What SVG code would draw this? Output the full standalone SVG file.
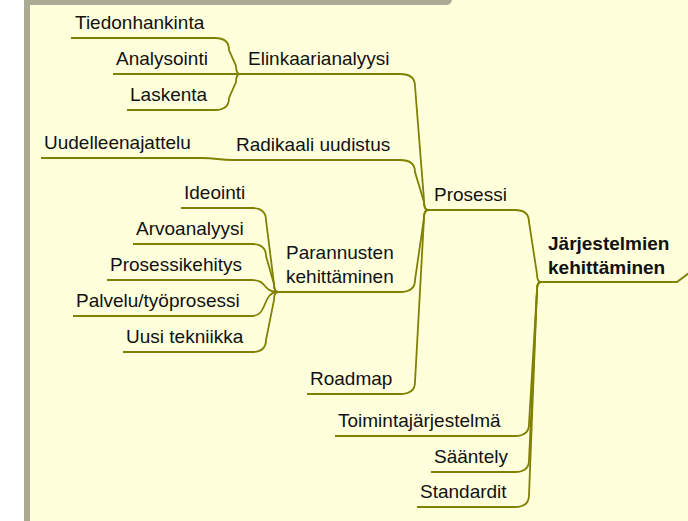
<svg xmlns="http://www.w3.org/2000/svg" width="688" height="521" viewBox="0 0 688 521">
<style>
text{font-family:"Liberation Sans",Arial,sans-serif;font-size:19px;fill:#111}
.b{font-weight:bold}
.u{stroke:#818100;stroke-width:2;fill:none}
.c{stroke:#818100;stroke-width:1.8;fill:none}
</style>
<rect x="0" y="0" width="688" height="521" fill="#ffffff"/>
<rect x="24" y="0" width="664" height="521" fill="#ffffdc"/>
<path d="M24,0 H452 Q451,5 446,5 H30 V521 H24 Z" fill="#abaa94"/>
<g id="connectors">
<path class="c" d="M215,38 Q229,38 229,50 L236,66 Q236,74 240,74"/>
<path class="c" d="M215,110 Q229,110 229,98 L236,82 Q236,74 240,74"/>
<path class="c" d="M400,74 Q415,74 415,86 L424,200 Q424,210 428,210"/>
<path class="c" d="M202,158 C215,158 220,160 233,160"/>
<path class="c" d="M400,160 Q415,160 415,172 L424,202 Q424,210 428,210"/>
<path class="c" d="M252,208 Q266,208 266,220 L274,284 Q274,292 278,292"/>
<path class="c" d="M252,244 Q266,244 266,256 L274,284 Q274,292 278,292"/>
<path class="c" d="M252,280 C268,280 262,292 278,292"/>
<path class="c" d="M252,316 C268,316 262,292 278,292"/>
<path class="c" d="M252,352 Q266,352 266,340 L274,300 Q274,292 278,292"/>
<path class="c" d="M400,292 Q415,292 415,280 L424,218 Q424,210 428,210"/>
<path class="c" d="M400,394 Q415,394 415,382 L424,218 Q424,210 428,210"/>
<path class="c" d="M515,210 Q529,210 529,222 L537,274 Q537,282 541,282"/>
<path class="c" d="M515,436 Q529,436 529,424 L537,290 Q537,282 541,282"/>
<path class="c" d="M515,472 Q529,472 529,460 L537,290 Q537,282 541,282"/>
<path class="c" d="M515,507 Q529,507 529,495 L537,290 Q537,282 541,282"/>
</g>
<g id="n-tiedonhankinta"><line class="u" x1="71" y1="38" x2="215" y2="38"/><text x="75" y="29">Tiedonhankinta</text></g>
<g id="n-analysointi"><line class="u" x1="113" y1="74" x2="240" y2="74"/><text x="116" y="65">Analysointi</text></g>
<g id="n-laskenta"><line class="u" x1="127" y1="110" x2="215" y2="110"/><text x="130" y="101">Laskenta</text></g>
<g id="n-elinkaarianalyysi"><line class="u" x1="240" y1="74" x2="400" y2="74"/><text x="248" y="65">Elinkaarianalyysi</text></g>
<g id="n-uudelleenajattelu"><line class="u" x1="41" y1="158" x2="202" y2="158"/><text x="44" y="149">Uudelleenajattelu</text></g>
<g id="n-radikaali"><line class="u" x1="233" y1="160" x2="400" y2="160"/><text x="236" y="151">Radikaali uudistus</text></g>
<g id="n-ideointi"><line class="u" x1="181" y1="208" x2="252" y2="208"/><text x="184" y="199">Ideointi</text></g>
<g id="n-arvoanalyysi"><line class="u" x1="133" y1="244" x2="252" y2="244"/><text x="136" y="235">Arvoanalyysi</text></g>
<g id="n-prosessikehitys"><line class="u" x1="107" y1="280" x2="252" y2="280"/><text x="110" y="271">Prosessikehitys</text></g>
<g id="n-palvelu"><line class="u" x1="73" y1="316" x2="252" y2="316"/><text x="76" y="307">Palvelu/työprosessi</text></g>
<g id="n-uusitekniikka"><line class="u" x1="123" y1="352" x2="252" y2="352"/><text x="126" y="343">Uusi tekniikka</text></g>
<g id="n-parannusten"><line class="u" x1="278" y1="292" x2="400" y2="292"/><text x="286" y="259">Parannusten</text><text x="286" y="283">kehittäminen</text></g>
<g id="n-roadmap"><line class="u" x1="307" y1="394" x2="400" y2="394"/><text x="310" y="385">Roadmap</text></g>
<g id="n-prosessi"><line class="u" x1="428" y1="210" x2="515" y2="210"/><text x="434" y="201">Prosessi</text></g>
<g id="n-toimintajarjestelma"><line class="u" x1="335" y1="436" x2="515" y2="436"/><text x="338" y="427">Toimintajärjestelmä</text></g>
<g id="n-saantely"><line class="u" x1="431" y1="472" x2="515" y2="472"/><text x="434" y="463">Sääntely</text></g>
<g id="n-standardit"><line class="u" x1="417" y1="507" x2="515" y2="507"/><text x="420" y="498">Standardit</text></g>
<g id="n-jarjestelmien"><path class="u" d="M541,282 H677 L689,273"/><text class="b" x="548" y="250">Järjestelmien</text><text class="b" x="548" y="274">kehittäminen</text></g>
</svg>
